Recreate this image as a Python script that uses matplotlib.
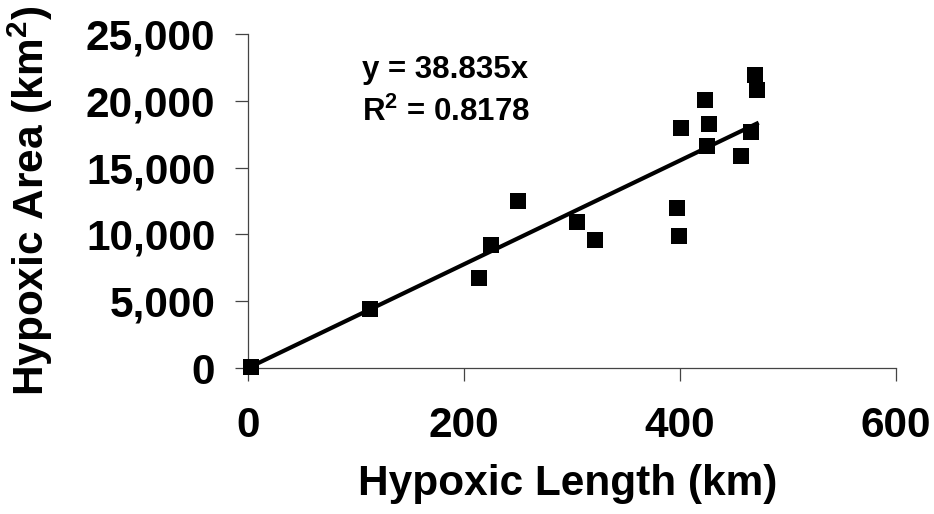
import numpy as np
import matplotlib
matplotlib.use("Agg")
import matplotlib.pyplot as plt

# hypoxic length (km) vs hypoxic area (km2)
length_km = [3, 113, 214, 225, 250, 305, 321, 397, 399, 401,
             423, 425, 427, 456, 466, 469, 471]
area_km2 = [100, 4400, 6700, 9200, 12500, 10900, 9600, 12000, 9900, 17950,
            20050, 16600, 18250, 15850, 17650, 21950, 20800]

slope = 38.835
r_squared = 0.8178

x_ticks = [0, 200, 400, 600]
y_ticks = [0, 5000, 10000, 15000, 20000, 25000]
y_tick_labels = ["0", "5,000", "10,000", "15,000", "20,000", "25,000"]

plt.rcParams['font.family'] = ['Liberation Sans', 'DejaVu Sans']
plt.rcParams['font.weight'] = 'bold'
plt.rcParams['mathtext.default'] = 'regular'

fig = plt.figure(figsize=(9.34, 5.14), dpi=100)
ax = fig.add_axes([0.2655, 0.284, 0.694, 0.65])

# trend line through the origin
fit_x = np.array([min(length_km), max(length_km)])
ax.plot(fit_x, slope * fit_x, color='black', lw=3, zorder=2)
ax.plot(length_km, area_km2, 's', color='black', ms=11.5, mew=0, zorder=3,
        clip_on=False)

ax.set_xlim(0, 600)
ax.set_ylim(0, 25000)
ax.set_xticks(x_ticks)
ax.set_yticks(y_ticks)
ax.set_yticklabels(y_tick_labels)

for side in ['top', 'right']:
    ax.spines[side].set_visible(False)
for side in ['left', 'bottom']:
    ax.spines[side].set_color('#444444')
    ax.spines[side].set_linewidth(0.9)

ax.tick_params(axis='both', direction='out', length=9.5, width=0.9,
               color='#444444', labelsize=30.5)
ax.tick_params(axis='x', pad=18)
ax.tick_params(axis='y', pad=14)
for lbl in ax.get_xticklabels() + ax.get_yticklabels():
    lbl.set_fontweight('bold')

ax.set_xlabel("Hypoxic Length (km)", fontsize=30.5, fontweight='bold', va='center')
ax.set_ylabel("Hypoxic Area (km$^{2}$)", fontsize=30.5, fontweight='bold', va='center')
ax.xaxis.set_label_coords(0.494, -0.347)
ax.yaxis.set_label_coords(-0.336, 0.5)

ax.text(0.176, 0.892, "y = %.3fx" % slope, transform=ax.transAxes,
        fontsize=22.5, fontweight='bold', va='center', ha='left')
ax.text(0.176, 0.766, "R$^{2}$ = %.4f" % r_squared, transform=ax.transAxes,
        fontsize=22.5, fontweight='bold', va='center', ha='left')

fig.savefig("out.png", dpi=100)
